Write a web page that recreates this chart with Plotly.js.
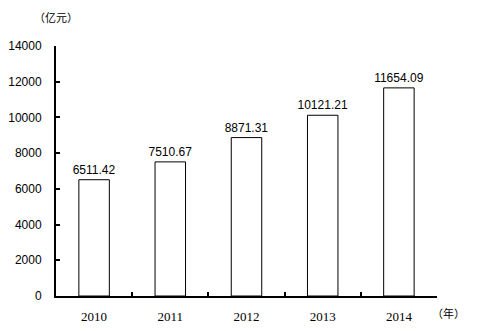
<!DOCTYPE html>
<html><head><meta charset="utf-8">
<script src="https://cdn.plot.ly/plotly-3.0.1.min.js"></script>
<style>body{margin:0;background:#fff}#c{width:480px;height:331px}</style>
</head><body><div id="c"></div>
<script>
const years = ['2010','2011','2012','2013','2014'];
const values = [6511.42, 7510.67, 8871.31, 10121.21, 11654.09];
const labels = ['6511.42','7510.67','8871.31','10121.21','11654.09'];
const yTicks = [0,2000,4000,6000,8000,10000,12000,14000];
const yTickText = ['0','2000','4000','6000','8000','10000','12000','14000'];

Plotly.newPlot('c', [{
  type:'bar', x:years, y:values, text:labels, textposition:'outside',
  constraintext:'none',
  textfont:{family:'Liberation Sans, Arial, sans-serif', size:12, color:'#000'},
  cliponaxis:false,
  marker:{color:'#fff', line:{color:'#000', width:1}},
  width:0.4, hoverinfo:'none'
}], {
  width:480, height:331,
  margin:{l:56, r:43, t:46, b:35},
  paper_bgcolor:'#fff', plot_bgcolor:'#fff',
  showlegend:false,
  font:{family:'Liberation Sans, Arial, sans-serif', size:11, color:'#000'},
  xaxis:{type:'category', showline:true, linecolor:'#000', linewidth:2,
    ticks:'inside', tickson:'boundaries', ticklen:4, tickcolor:'#000', tickwidth:2,
    showgrid:false, zeroline:false, ticklabelstandoff:7,
    tickfont:{family:'Liberation Serif, serif', size:13, color:'#000'}},
  yaxis:{range:[0,14000], tickvals:yTicks, ticktext:yTickText, showline:true, linecolor:'#000', linewidth:2,
    ticks:'inside', ticklen:4, tickcolor:'#000', tickwidth:2,
    showgrid:false, zeroline:false, ticklabelstandoff:10,
    tickfont:{size:12, color:'#000'}},
  annotations:[
    {text:'（亿元）', xref:'paper', yref:'paper', x:0, y:1.116, xanchor:'center', yanchor:'middle', showarrow:false, font:{size:11, family:'Noto Sans CJK SC, sans-serif'}},
    {text:'（年）', xref:'paper', yref:'paper', x:1.03, y:-0.068, xanchor:'center', yanchor:'middle', showarrow:false, font:{size:11, family:'Noto Sans CJK SC, sans-serif'}}
  ]
}, {staticPlot:true});
</script></body></html>
